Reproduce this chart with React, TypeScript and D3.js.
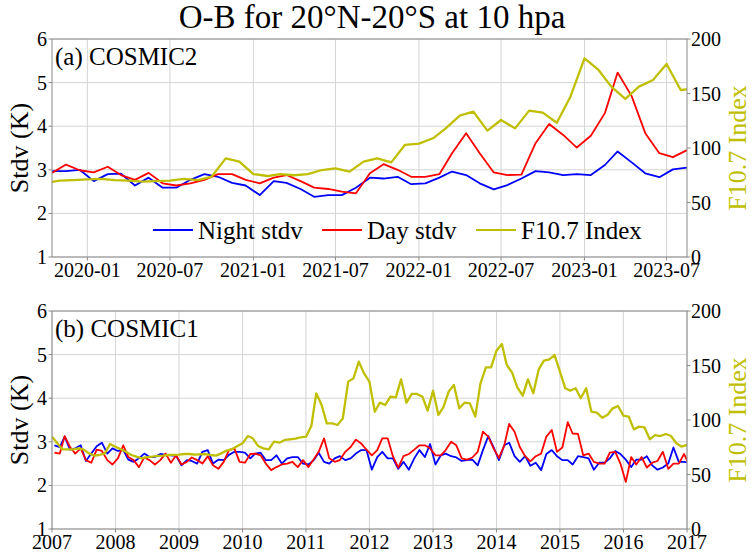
import React from 'react';
import * as d3 from 'd3';

const W = 752;
const H = 554;
const FONT = "'Liberation Serif', 'Times New Roman', Times, serif";

const NIGHT_COLOR = '#0000ff';
const DAY_COLOR = '#ff0000';
const F107_COLOR = '#bfbf00';

// ---------- Panel (a) COSMIC2: monthly (mid-month) from 2019-10 ----------
const c2StartYear = 2019;
const c2StartMonth = 9; // October (0-based)
const c2Night = [
  2.97, 2.97, 3.0, 2.74, 2.9, 2.91, 2.64, 2.82, 2.59, 2.59, 2.77, 2.9,
  2.84, 2.7, 2.64, 2.42, 2.74, 2.7, 2.56, 2.38, 2.42, 2.42, 2.59, 2.82,
  2.8, 2.84, 2.67, 2.69, 2.82, 2.96, 2.88, 2.69, 2.55, 2.65, 2.8, 2.97,
  2.94, 2.88, 2.9, 2.88, 3.11, 3.42, 3.17, 2.92, 2.83, 3.01, 3.05,
];
const c2Day = [
  2.93, 3.12, 2.99, 2.94, 3.07, 2.88, 2.77, 2.93, 2.69, 2.64, 2.69, 2.77,
  2.9, 2.9, 2.77, 2.69, 2.82, 2.88, 2.74, 2.59, 2.56, 2.5, 2.46, 2.92,
  3.13, 3.0, 2.84, 2.84, 2.9, 3.38, 3.84, 3.38, 2.94, 2.88, 2.89, 3.61,
  4.05, 3.8, 3.51, 3.78, 4.3, 5.23, 4.69, 3.84, 3.38, 3.29, 3.45,
];
// F10.7 monthly (first of month) from 2019-10
const c2F107 = [
  68, 70, 70.6, 71.3, 71.6, 70.6, 70, 69.1, 69.7, 70, 71.6, 70.6,
  73.7, 90.5, 87.5, 76.1, 74.3, 76.1, 75, 76.1, 79.8, 81.3, 78.3, 87.5,
  90.5, 86.8, 102.8, 104, 108.9, 118, 129.7, 133.3, 115.9, 125.7, 118, 134.3,
  132.4, 123.2, 147.1, 182.3, 171.6, 156.3, 145, 156.3, 162.4, 177.1, 153.2, 154.5,
];
const c2XTicks = ['2020-01', '2020-07', '2021-01', '2021-07', '2022-01', '2022-07', '2023-01', '2023-07'];

// ---------- Panel (b) COSMIC1: monthly from 2007-01 ----------
const c1StartYear = 2007;
const c1StartMonth = 0;
const c1Night = [
  2.92, 2.88, 3.12, 2.82, 2.85, 2.92, 2.56, 2.73, 2.9, 2.98, 2.73, 2.85,
  2.79, 2.81, 2.59, 2.54, 2.62, 2.73, 2.65, 2.65, 2.72, 2.7, 2.69, 2.68,
  2.46, 2.58, 2.56, 2.5, 2.77, 2.81, 2.5, 2.59, 2.58, 2.7, 2.77, 2.77,
  2.75, 2.62, 2.73, 2.75, 2.58, 2.58, 2.69, 2.5, 2.62, 2.65, 2.65, 2.5,
  2.48, 2.58, 2.75, 2.54, 2.5, 2.62, 2.67, 2.58, 2.62, 2.73, 2.81, 2.81,
  2.36, 2.65, 2.77, 2.62, 2.62, 2.38, 2.54, 2.36, 2.62, 2.81, 2.65, 2.95,
  2.48, 2.69, 2.73, 2.67, 2.64, 2.56, 2.58, 2.59, 2.46, 2.81, 3.13, 2.88,
  2.58, 2.92, 2.98, 2.67, 2.54, 2.67, 2.45, 2.52, 2.35, 2.72, 2.81, 2.67,
  2.58, 2.58, 2.48, 2.67, 2.65, 2.62, 2.36, 2.52, 2.52, 2.62, 2.79, 2.72,
  2.59, 2.42, 2.59, 2.59, 2.67, 2.46, 2.36, 2.41, 2.5, 2.87, 2.54, 2.54,
  2.52,
];
const c1Day = [
  2.75, 2.73, 3.13, 2.88, 2.73, 2.85, 2.58, 2.52, 2.82, 2.79, 2.58, 2.48,
  2.62, 2.92, 2.65, 2.58, 2.42, 2.64, 2.58, 2.48, 2.58, 2.73, 2.52, 2.69,
  2.48, 2.54, 2.64, 2.58, 2.5, 2.67, 2.46, 2.38, 2.54, 2.81, 2.85, 2.54,
  2.52, 2.72, 2.73, 2.69, 2.5, 2.35, 2.42, 2.48, 2.5, 2.54, 2.42, 2.58,
  2.42, 2.6, 2.77, 3.08, 2.62, 2.54, 2.58, 2.77, 2.88, 3.05, 2.96, 2.82,
  2.69, 2.81, 3.08, 3.08, 2.67, 2.41, 2.67, 2.72, 2.82, 2.92, 2.92, 2.85,
  2.69, 2.69, 2.81, 3.0, 2.92, 2.62, 2.59, 2.64, 2.77, 3.23, 3.12, 2.85,
  2.63, 2.92, 3.41, 3.23, 2.88, 2.67, 2.55, 2.67, 2.73, 3.12, 3.27, 2.77,
  2.87, 3.45, 3.19, 3.18, 2.69, 2.73, 2.54, 2.5, 2.5, 2.75, 2.77, 2.5,
  2.08, 2.65, 2.48, 2.65, 2.41, 2.52, 2.56, 2.77, 2.38, 2.5, 2.5, 2.72,
  2.46,
];
const c1F107 = [
  84.7, 78.6, 73.1, 73.1, 73.1, 74.0, 73.1, 69.4, 67.3, 67.9, 69.4, 78.0,
  75.5, 73.1, 70.9, 67.9, 66.4, 64.8, 66.0, 66.4, 67.0, 67.3, 67.9, 68.0,
  68.2, 68.8, 68.8, 68.2, 68.5, 68.8, 67.9, 67.3, 69.4, 71.9, 73.1, 76.0,
  78.6, 85.3, 83.2, 76.1, 74.0, 73.1, 80.1, 79.2, 81.7, 82.3, 83.0, 84.0,
  84.7, 94.5, 124.5, 113.8, 96.9, 96.9, 95.4, 101.5, 135.2, 138.2, 153.5, 142.8,
  135.2, 107.6, 115.9, 113.8, 121.4, 120.8, 137.3, 115.9, 123.9, 123.9, 121.4, 108.6,
  126.9, 104.6, 111.6, 126.0, 132.1, 110.7, 115.9, 115.3, 103.1, 133.6, 148.3, 148.3,
  163.6, 169.7, 150.5, 143.4, 130.0, 122.3, 137.3, 124.5, 146.5, 154.4, 155.7, 159.6,
  144.3, 129.1, 126.9, 129.1, 119.9, 129.1, 107.6, 106.7, 102.1, 104.6, 110.7, 112.8,
  104.0, 103.1, 91.4, 93.9, 93.3, 82.3, 86.2, 85.3, 87.2, 85.3, 78.6, 75.5,
  77.1,
];
const c1XTicks = ['2007', '2008', '2009', '2010', '2011', '2012', '2013', '2014', '2015', '2016', '2017'];

const stdvTicks = [1, 2, 3, 4, 5, 6];
const f107Ticks = [0, 50, 100, 150, 200];

const legendItems = [
  { label: 'Night stdv', color: NIGHT_COLOR },
  { label: 'Day stdv', color: DAY_COLOR },
  { label: 'F10.7 Index', color: F107_COLOR },
];

const monthDate = (y: number, m: number, i: number, day: number) => new Date(Date.UTC(y, m + i, day));

function parseTick(t: string): Date {
  const parts = t.split('-');
  const y = +parts[0];
  const m = parts.length > 1 ? +parts[1] - 1 : 0;
  return new Date(Date.UTC(y, m, 1));
}

type PanelProps = {
  id: string;
  top: number;
  label: string;
  domain: [Date, Date];
  startYear: number;
  startMonth: number;
  stdvDay: number;
  night: number[];
  day: number[];
  f107: number[];
  xTicks: string[];
  legend?: boolean;
};

const L = 52;
const R = 687;
const PH = 218;

function Panel(p: PanelProps) {
  const x = d3.scaleUtc().domain(p.domain).range([L, R]);
  const y = d3.scaleLinear().domain([1, 6]).range([p.top + PH, p.top]);
  const y2 = d3.scaleLinear().domain([0, 200]).range([p.top + PH, p.top]);

  const stdvLine = d3
    .line<number>()
    .x((_, i) => x(monthDate(p.startYear, p.startMonth, i, p.stdvDay)))
    .y((v) => y(v));
  const fLine = d3
    .line<number>()
    .x((_, i) => x(monthDate(p.startYear, p.startMonth, i, 1)))
    .y((v) => y2(v));

  const bottom = p.top + PH;
  const clipId = `clip-${p.id}`;

  return (
    <g>
      <defs>
        <clipPath id={clipId}>
          <rect x={L} y={p.top} width={R - L} height={PH} />
        </clipPath>
      </defs>
      {stdvTicks.map((t) => (
        <line key={`gy${t}`} x1={L} x2={R} y1={y(t)} y2={y(t)} stroke="#d4d4d4" strokeWidth={1} />
      ))}
      {p.xTicks.map((t) => (
        <line key={`gx${t}`} x1={x(parseTick(t))} x2={x(parseTick(t))} y1={p.top} y2={bottom} stroke="#d4d4d4" strokeWidth={1} />
      ))}
      <g clipPath={`url(#${clipId})`} fill="none" strokeLinejoin="round">
        <path d={stdvLine(p.night) || ''} stroke={NIGHT_COLOR} strokeWidth={1.8} />
        <path d={stdvLine(p.day) || ''} stroke={DAY_COLOR} strokeWidth={1.8} />
        <path d={fLine(p.f107) || ''} stroke={F107_COLOR} strokeWidth={2.3} />
      </g>
      <rect x={L} y={p.top} width={R - L} height={PH} fill="none" stroke="#8a8a8a" strokeWidth={1} />
      {stdvTicks.map((t) => (
        <g key={`ly${t}`}>
          <line x1={L - 3.5} x2={L} y1={y(t)} y2={y(t)} stroke="#8a8a8a" />
          <text x={L - 5} y={y(t)} dy="0.35em" textAnchor="end" fontSize={20} fontFamily={FONT}>
            {t}
          </text>
        </g>
      ))}
      {f107Ticks.map((t) => (
        <g key={`ry${t}`}>
          <line x1={R} x2={R + 3.5} y1={y2(t)} y2={y2(t)} stroke="#8a8a8a" />
          <text x={R + 4} y={y2(t)} dy="0.35em" textAnchor="start" fontSize={20} fontFamily={FONT}>
            {t}
          </text>
        </g>
      ))}
      {p.xTicks.map((t) => (
        <g key={`lx${t}`}>
          <line x1={x(parseTick(t))} x2={x(parseTick(t))} y1={bottom} y2={bottom + 3.5} stroke="#8a8a8a" />
          <text x={x(parseTick(t))} y={bottom + 20} textAnchor="middle" fontSize={20} fontFamily={FONT}>
            {t}
          </text>
        </g>
      ))}
      <text
        transform={`translate(19,${p.top + PH / 2}) rotate(-90)`}
        textAnchor="middle"
        dy="0.35em"
        fontSize={26}
        fontFamily={FONT}
      >
        Stdv (K)
      </text>
      <text
        transform={`translate(737,${p.top + PH / 2}) rotate(-90)`}
        textAnchor="middle"
        dy="0.35em"
        fontSize={26}
        fontFamily={FONT}
        fill={F107_COLOR}
      >
        F10.7 Index
      </text>
      <text x={55} y={p.top + 26} fontSize={25} fontFamily={FONT}>
        {p.label}
      </text>
      {p.legend && (
        <g>
          {legendItems.map((it, i) => {
            const lx = [153, 322, 476][i];
            return (
              <g key={it.label}>
                <line x1={lx} x2={lx + 40} y1={230} y2={230} stroke={it.color} strokeWidth={2} />
                <text x={lx + 45} y={230} dy="0.35em" fontSize={25} fontFamily={FONT}>
                  {it.label}
                </text>
              </g>
            );
          })}
        </g>
      )}
    </g>
  );
}

export default function App() {
  return (
    <svg
      width={W}
      height={H}
      viewBox={`0 0 ${W} ${H}`}
      style={{ position: 'absolute', left: 0, top: 0, background: '#fff' }}
    >
      <rect x={0} y={0} width={W} height={H} fill="#fff" />
      <text x={372} y={28} textAnchor="middle" fontSize={33} fontFamily={FONT}>
        O-B for 20°N-20°S at 10 hpa
      </text>
      <Panel
        id="a"
        top={39}
        label="(a) COSMIC2"
        domain={[new Date(Date.UTC(2019, 9, 15)), new Date(Date.UTC(2023, 7, 15))]}
        startYear={c2StartYear}
        startMonth={c2StartMonth}
        stdvDay={15}
        night={c2Night}
        day={c2Day}
        f107={c2F107}
        xTicks={c2XTicks}
        legend
      />
      <Panel
        id="b"
        top={311}
        label="(b) COSMIC1"
        domain={[new Date(Date.UTC(2007, 0, 1)), new Date(Date.UTC(2017, 0, 1))]}
        startYear={c1StartYear}
        startMonth={c1StartMonth}
        stdvDay={15}
        night={c1Night}
        day={c1Day}
        f107={c1F107}
        xTicks={c1XTicks}
      />
    </svg>
  );
}
